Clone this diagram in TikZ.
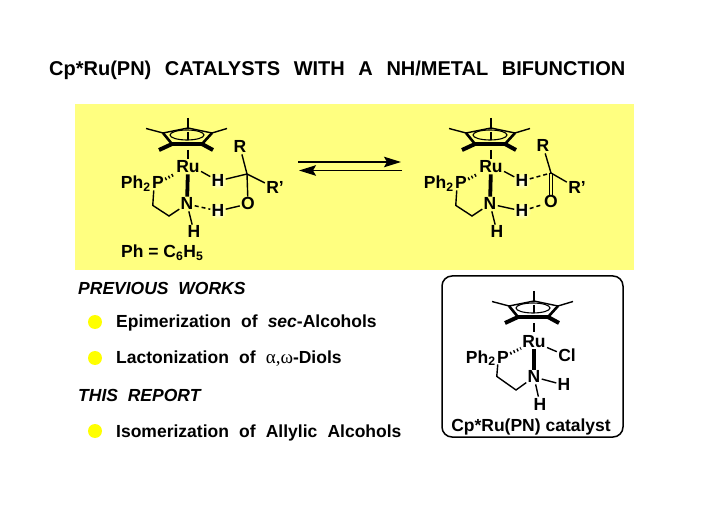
\documentclass[tikz,border=0pt]{standalone}
\usepackage{fontspec}
\usetikzlibrary{arrows.meta}
\setmainfont{Liberation Sans}
\newfontfamily\symfont{Liberation Serif}
\definecolor{bgy}{RGB}{255,255,128}
\definecolor{doty}{RGB}{255,255,0}
\tikzset{
 x=1pt,y=-1pt,
 atom/.style={font=\fontsize{17.5}{17.5}\selectfont\bfseries,inner sep=1.2pt,text height=12pt,text depth=0pt},
 bond/.style={line width=1.4pt,black},
 hbond/.style={line width=1.5pt,dash pattern=on 4pt off 3pt},
 wedgebond/.style={line width=3.8pt},
 hashbond/.style={line width=3pt,dash pattern=on 1.4pt off 2.3pt},
 lbl/.style={font=\fontsize{17.5}{17.5}\selectfont\bfseries,anchor=base west,inner sep=0pt},
 head/.style={font=\fontsize{17.5}{17.5}\selectfont\bfseries\itshape,anchor=base west,inner sep=0pt},
 dot/.style={circle,fill=doty,inner sep=0pt,minimum size=14pt},
 glow/.style={circle,inner sep=0pt,minimum size=18pt,inner color=white,outer color=bgy,draw=none},
 eqarrow/.style={line width=1.5pt,-{Stealth[length=17pt,width=10.5pt,inset=3pt]}},
}
\newcommand{\cpstar}[2]{%
 \begin{scope}[shift={(#1,#2)}]
  \coordinate (rt) at (0,-7);
  \coordinate (rr) at (24,-2);
  \coordinate (rbr) at (14,9);
  \coordinate (rbl) at (-16,9);
  \coordinate (rl) at (-25,-2);
  \draw[bond] (0,-17) -- (rt);
  \draw[bond] (rr) -- (39,-6.5);
  \draw[bond] (rl) -- (-42,-6.5);
  \draw[bond] (rt) -- (rr);
  \draw[bond] (rt) -- (rl);
  \draw[line width=2.6pt] (rl) -- (rbl);
  \draw[line width=2.6pt] (rr) -- (rbr);
  \draw[line width=3.6pt] (rbl) -- (rbr);
  \draw[line width=4pt] (rbl) -- (-29,15);
  \draw[line width=4pt] (rbr) -- (25,15);
  \draw[line width=1.1pt] (-1,0) ellipse (17pt and 5pt);
  \draw[bond] (0,-3) -- (0,5);
  \draw[bond] (0,15) -- (0,24);
 \end{scope}}
\begin{document}
\begin{tikzpicture}
\useasboundingbox (0,0) rectangle (720,510);
\fill[white] (0,0) rectangle (720,510);
\fill[bgy] (75,104) rectangle (634,270);

\node[font=\fontsize{20}{20}\selectfont\bfseries,anchor=base west,inner sep=0pt] (title) at (49,76) {Cp*Ru(PN)\hspace{.68em}CATALYSTS\hspace{.68em}WITH\hspace{.68em}A\hspace{.68em}NH/METAL\hspace{.68em}BIFUNCTION};

% left complex
\node[glow] at (218,181) {};
\node[glow] at (218,211) {};
\cpstar{188}{135}
\node[atom] (ru1) at (188,167) {Ru};
\node[atom] (p1) at (158,183) {P};
\node[atom,anchor=east,inner xsep=0pt] (ph1) at (p1.west) {Ph$_{\mathbf 2}$};
\node[atom] (n1) at (187,204) {N};
\node[atom] (h1a) at (218,181) {H};
\node[atom] (h1b) at (218,211) {H};
\node[atom] (h1c) at (194,232) {H};
\node[atom] (o1) at (248,204) {O};
\node[atom] (r1) at (240,147) {R};
\node[atom] (rp1) at (275,188) {R'};
\coordinate (c1) at (247,174);
\coordinate (k1) at (169,216);
\draw[wedgebond] (ru1) -- (n1);
\draw[hashbond] (p1) -- (ru1);
\draw[bond] (ru1.south east) ++(0,-3) -- (h1a);
\draw[bond] (h1a) -- (c1);
\draw[bond] (r1) -- (c1);
\draw[bond] (c1) -- (rp1);
\draw[bond] (c1) -- (o1);
\draw[bond] (h1b) -- (o1);
\draw[hbond] (n1) -- (h1b);
\draw[bond] (n1) -- (h1c);
\draw[bond] (p1.south west) ++(3,0) -- ++(-1,15) -- (k1) -- (n1);

% right complex
\node[glow] at (522,181) {};
\node[glow] at (522,211) {};
\cpstar{491}{135}
\node[atom] (ru2) at (491,167) {Ru};
\node[atom] (p2) at (461,183) {P};
\node[atom,anchor=east,inner xsep=0pt] (ph2) at (p2.west) {Ph$_{\mathbf 2}$};
\node[atom] (n2) at (490,204) {N};
\node[atom] (h2a) at (522,181) {H};
\node[atom] (h2b) at (522,211) {H};
\node[atom] (h2c) at (497,232) {H};
\node[atom] (o2) at (551,202) {O};
\node[atom] (r2) at (543,146) {R};
\node[atom] (rp2) at (577,188) {R'};
\coordinate (c2) at (551,173);
\coordinate (k2) at (472,216);
\draw[wedgebond] (ru2) -- (n2);
\draw[hashbond] (p2) -- (ru2);
\draw[bond] (ru2.south east) ++(0,-3) -- (h2a);
\draw[hbond] (h2a) -- (c2);
\draw[bond] (r2) -- (c2);
\draw[bond] (c2) -- (rp2);
\draw[bond] ([xshift=-1.5pt]c2) -- ([xshift=-1.5pt]o2.north);
\draw[bond] ([xshift=1.5pt]c2) -- ([xshift=1.5pt]o2.north);
\draw[hbond] (h2b) -- (o2);
\draw[bond] (n2) -- (h2b);
\draw[bond] (n2) -- (h2c);
\draw[bond] (p2.south west) ++(3,0) -- ++(-1,15) -- (k2) -- (n2);

% equilibrium arrows
\coordinate (ea) at (298,162);
\coordinate (eb) at (401,162);
\coordinate (ec) at (299,170.5);
\coordinate (ed) at (402,170.5);
\draw[eqarrow] (ea) -- (eb);
\draw[eqarrow] (ed) -- (ec);

\node[lbl] (phdef) at (121,258) {Ph = C$_{\mathbf 6}$H$_{\mathbf 5}$};

% lists
\node[head] (prev) at (78,295) {PREVIOUS\hspace{.56em}WORKS};
\node[dot] (d1) at (95,322) {};
\node[lbl] (t1) at (116,328) {Epimerization\hspace{.58em}of\hspace{.58em}\textit{sec}-Alcohols};
\node[dot] (d2) at (95,358) {};
\node[lbl] (t2) at (116,363) {Lactonization\hspace{.58em}of\hspace{.58em}{\symfont\mdseries\fontsize{19}{19}\selectfont α,ω}-Diols};
\node[head] (this) at (78,402) {THIS\hspace{.56em}REPORT};
\node[dot] (d3) at (95,431) {};
\node[lbl] (t3) at (116,437) {Isomerization\hspace{.58em}of\hspace{.58em}Allylic\hspace{.58em}Alcohols};

% catalyst box
\draw[line width=1.5pt,rounded corners=10pt] (442,276) rectangle (623,437);
\cpstar{534}{308}
\node[atom] (ru3) at (534,342) {Ru};
\node[atom] (p3) at (503,357) {P};
\node[atom,anchor=east,inner xsep=0pt] (ph3) at (p3.west) {Ph$_{\mathbf 2}$};
\node[atom] (cl3) at (567,356) {Cl};
\node[atom] (n3) at (534,377) {N};
\node[atom] (h3a) at (564,385) {H};
\node[atom] (h3b) at (540,404) {H};
\coordinate (k3) at (516,390);
\draw[wedgebond] (ru3) -- (n3);
\draw[hashbond] (p3) -- (ru3);
\draw[bond] (ru3) -- (cl3);
\draw[bond] (n3) -- (h3a);
\draw[bond] (n3) -- (h3b);
\draw[bond] (p3.south west) ++(2,0) -- ++(-1,12) -- (k3) -- (n3);
\node[font=\fontsize{17.5}{17.5}\selectfont\bfseries,anchor=base,inner sep=0pt] (cap) at (531,431) {Cp*Ru(PN) catalyst};
\end{tikzpicture}
\end{document}
